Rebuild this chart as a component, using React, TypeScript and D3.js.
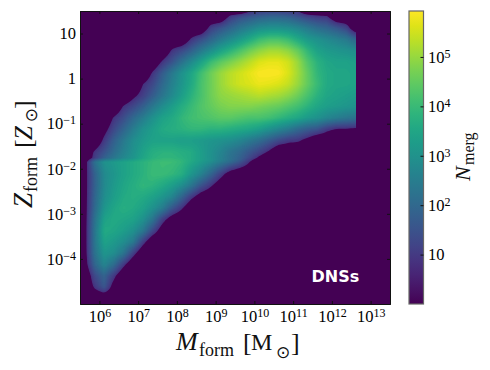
import React, { useEffect, useMemo, useRef } from 'react'
import * as d3 from 'd3'

const SERIF = '"Liberation Serif", serif'

// bin centres, log10 of mass and metallicity (two close rows keep the jump near Z = 10^-1.8)
const logMassBins = [5.625, 5.875, 6.125, 6.375, 6.625, 6.875, 7.125, 7.375, 7.625, 7.875, 8.125, 8.375, 8.625, 8.875, 9.125, 9.375, 9.625, 9.875, 10.125, 10.375, 10.625, 10.875, 11.125, 11.375, 11.625, 11.875, 12.125, 12.375, 12.625]
const logZBins = [1.5, 1.375, 1.125, 0.875, 0.625, 0.375, 0.125, -0.125, -0.375, -0.625, -0.875, -1.125, -1.375, -1.625, -1.79, -1.82, -2.125, -2.375, -2.625, -2.875, -3.125, -3.375, -3.625, -3.875, -4.125, -4.375, -4.625, -4.875]

// log10 N_merg, one row per logZBins entry
const logCounts = [
  [0, 0, 0, 0, 0, 0, 0, 0, 0, 0, 0, 0, 0, 0, 0, 0, 0, 0.7, 1.0, 1.1, 1.1, 1.0, 0.8, 0, 0, 0, 0, 0, 0],
  [0, 0, 0, 0, 0, 0, 0, 0, 0, 0, 0, 0, 0, 0, 0, 1.0, 1.4, 1.6, 1.8, 1.9, 1.9, 1.8, 1.5, 1.2, 1.0, 0.9, 0, 0, 0],
  [0, 0, 0, 0, 0, 0, 0, 0, 0, 0, 0, 0, 0, 1.1, 1.5, 1.9, 2.3, 2.6, 2.9, 3.0, 3.0, 2.9, 2.7, 2.4, 2.1, 1.9, 1.6, 1.2, 0],
  [0, 0, 0, 0, 0, 0, 0, 0, 0, 0, 0, 0.9, 1.4, 1.9, 2.4, 2.8, 3.2, 3.6, 4.0, 4.2, 4.2, 4.0, 3.6, 3.2, 3.0, 2.8, 2.6, 2.4, 1.9],
  [0, 0, 0, 0, 0, 0, 0, 0, 0, 0.9, 1.3, 1.8, 2.4, 2.9, 3.4, 3.8, 4.2, 4.6, 4.9, 5.1, 5.1, 4.9, 4.5, 3.9, 3.4, 3.2, 3.1, 3.0, 2.9],
  [0, 0, 0, 0, 0, 0, 0, 0, 0.9, 1.5, 2.2, 2.8, 3.4, 4.0, 4.4, 4.7, 5.0, 5.3, 5.6, 5.7, 5.7, 5.5, 5.0, 4.3, 3.8, 3.5, 3.4, 3.4, 3.3],
  [0, 0, 0, 0, 0, 0, 0, 0.9, 1.7, 2.4, 3.0, 3.5, 4.1, 4.6, 5.0, 5.3, 5.5, 5.7, 5.9, 5.93, 5.9, 5.6, 5.1, 4.5, 3.9, 3.6, 3.5, 3.5, 3.4],
  [0, 0, 0, 0, 0, 0, 0.8, 1.3, 2.0, 2.6, 3.1, 3.6, 4.2, 4.6, 5.0, 5.3, 5.5, 5.6, 5.75, 5.7, 5.6, 5.4, 5.0, 4.5, 4.0, 3.6, 3.5, 3.5, 3.4],
  [0, 0, 0, 0, 0, 0.6, 1.1, 1.7, 2.3, 2.8, 3.3, 3.8, 4.2, 4.6, 4.9, 5.0, 5.1, 5.2, 5.3, 5.2, 5.1, 4.9, 4.6, 4.2, 3.8, 3.5, 3.4, 3.3, 3.2],
  [0, 0, 0, 0, 0.9, 1.3, 1.8, 2.4, 2.9, 3.3, 3.7, 4.0, 4.3, 4.5, 4.7, 4.8, 4.8, 4.8, 4.7, 4.6, 4.5, 4.3, 4.1, 3.8, 3.5, 3.3, 3.2, 3.1, 3.0],
  [0, 0, 0, 0.9, 1.4, 2.0, 2.5, 3.0, 3.4, 3.6, 3.9, 4.1, 4.2, 4.3, 4.4, 4.4, 4.3, 4.2, 4.2, 4.1, 3.9, 3.7, 3.5, 3.2, 3.0, 2.7, 2.5, 2.3, 2.2],
  [0, 0, 0.5, 1.3, 1.9, 2.5, 3.0, 3.3, 3.6, 3.7, 3.8, 3.9, 3.9, 3.8, 3.8, 3.7, 3.6, 3.5, 3.3, 3.0, 2.7, 2.4, 2.0, 1.7, 1.5, 1.0, 0.7, 0.7, 0.6],
  [0, 0, 1.0, 1.8, 2.4, 2.9, 3.2, 3.4, 3.4, 3.4, 3.3, 3.3, 3.2, 3.1, 3.0, 2.9, 2.7, 2.4, 2.1, 1.7, 1.3, 1.0, 0.9, 0.5, 0, 0, 0, 0, 0],
  [0, 0.9, 1.5, 2.1, 2.6, 3.0, 3.4, 3.7, 3.8, 3.8, 3.7, 3.6, 3.3, 3.0, 2.7, 2.3, 2.0, 1.6, 1.2, 0.7, 0, 0, 0, 0, 0, 0, 0, 0, 0],
  [0, 1.1, 1.9, 2.4, 2.8, 3.1, 3.5, 3.8, 3.9, 3.9, 3.8, 3.6, 3.3, 3.0, 2.6, 2.2, 1.8, 1.2, 0.5, 0, 0, 0, 0, 0, 0, 0, 0, 0, 0],
  [0.4, 2.2, 3.0, 3.2, 3.4, 3.6, 3.8, 3.95, 4.05, 4.05, 3.9, 3.6, 3.3, 3.0, 2.6, 2.2, 1.7, 0.9, 0, 0, 0, 0, 0, 0, 0, 0, 0, 0, 0],
  [0.5, 1.8, 2.8, 3.1, 3.4, 3.6, 3.8, 4.0, 4.0, 3.9, 3.7, 3.1, 2.6, 1.9, 1.1, 0.3, 0, 0, 0, 0, 0, 0, 0, 0, 0, 0, 0, 0, 0],
  [0.5, 1.8, 2.8, 3.2, 3.5, 3.7, 3.9, 3.8, 3.6, 3.3, 2.9, 2.3, 1.5, 0.9, 0.2, 0, 0, 0, 0, 0, 0, 0, 0, 0, 0, 0, 0, 0, 0],
  [0.5, 1.9, 2.9, 3.3, 3.6, 3.7, 3.6, 3.4, 3.1, 2.7, 1.9, 1.0, 0.3, 0, 0, 0, 0, 0, 0, 0, 0, 0, 0, 0, 0, 0, 0, 0, 0],
  [0.5, 2.0, 3.1, 3.5, 3.7, 3.6, 3.4, 3.0, 2.5, 1.6, 0.9, 0, 0, 0, 0, 0, 0, 0, 0, 0, 0, 0, 0, 0, 0, 0, 0, 0, 0],
  [0.5, 2.2, 3.4, 3.6, 3.5, 3.4, 3.0, 2.3, 1.1, 0.3, 0, 0, 0, 0, 0, 0, 0, 0, 0, 0, 0, 0, 0, 0, 0, 0, 0, 0, 0],
  [0.5, 2.3, 3.6, 3.5, 3.3, 3.0, 2.4, 1.3, 0.3, 0, 0, 0, 0, 0, 0, 0, 0, 0, 0, 0, 0, 0, 0, 0, 0, 0, 0, 0, 0],
  [0.5, 2.3, 3.4, 3.2, 2.9, 2.4, 1.1, 0, 0, 0, 0, 0, 0, 0, 0, 0, 0, 0, 0, 0, 0, 0, 0, 0, 0, 0, 0, 0, 0],
  [0.5, 2.2, 3.1, 2.9, 2.3, 1.1, 0, 0, 0, 0, 0, 0, 0, 0, 0, 0, 0, 0, 0, 0, 0, 0, 0, 0, 0, 0, 0, 0, 0],
  [0.4, 1.9, 2.7, 2.1, 1.0, 0, 0, 0, 0, 0, 0, 0, 0, 0, 0, 0, 0, 0, 0, 0, 0, 0, 0, 0, 0, 0, 0, 0, 0],
  [0, 1.3, 1.9, 1.0, 0, 0, 0, 0, 0, 0, 0, 0, 0, 0, 0, 0, 0, 0, 0, 0, 0, 0, 0, 0, 0, 0, 0, 0, 0],
  [0, 0.9, 1.6, 0.4, 0, 0, 0, 0, 0, 0, 0, 0, 0, 0, 0, 0, 0, 0, 0, 0, 0, 0, 0, 0, 0, 0, 0, 0, 0],
  [0, 0, 0, 0, 0, 0, 0, 0, 0, 0, 0, 0, 0, 0, 0, 0, 0, 0, 0, 0, 0, 0, 0, 0, 0, 0, 0, 0, 0],
]

const massTicks = [6, 7, 8, 9, 10, 11, 12, 13]
const metalTicks = [1, 0, -1, -2, -3, -4]
const countTicks = [1, 2, 3, 4, 5]
const massLimits = [5.5, 13.5]
const metalLimits = [-5, 1.5]
const countMax = 5.93
const countMin = 0.8 // anything below this is painted as background
const massCut = 12.62 // the heat map stops dead here

const plot = { left: 80, right: 390, top: 11, bottom: 304 }
const bar = { left: 409, right: 423.5 }

const x = d3.scaleLinear().domain(massLimits).range([plot.left, plot.right])
const y = d3.scaleLinear().domain(metalLimits).range([plot.bottom, plot.top])
const barY = d3.scaleLinear().domain([0, countMax]).range([plot.bottom, plot.top])
const colour = d3.scaleSequential(d3.interpolateViridis).domain([0, countMax])

// 10, 1, 10^n as tspans in a tick's text
function powerLabel(text: any) {
  text.each(function (this: any, d: number) {
    const t = d3.select(this)
    t.text(d === 0 ? '1' : '10')
    if (d !== 0 && d !== 1) {
      t.append('tspan')
        .attr('dy', '-0.42em')
        .attr('font-size', 12)
        .text(String(d).replace('-', '\u2212'))
    }
  })
}

function buildBands() {
  const col = d3.scaleLinear().domain(logMassBins).range(d3.range(logMassBins.length)).clamp(true)
  const row = d3.scaleLinear().domain(logZBins).range(d3.range(logZBins.length)).clamp(true)
  const step = 2
  const pad = 4
  const w = Math.ceil((plot.right - plot.left) / step) + pad * 2
  const h = Math.ceil((plot.bottom - plot.top) / step) + pad * 2
  const values = new Float64Array(w * h)

  for (let j = 0; j < h; j++) {
    const fr = row(y.invert(plot.top + (j + 0.5 - pad) * step))
    const r0 = Math.floor(fr)
    const r1 = Math.min(r0 + 1, logZBins.length - 1)
    for (let i = 0; i < w; i++) {
      const fc = col(x.invert(plot.left + (i + 0.5 - pad) * step))
      const c0 = Math.floor(fc)
      const c1 = Math.min(c0 + 1, logMassBins.length - 1)
      const top = d3.interpolateNumber(logCounts[r0][c0], logCounts[r0][c1])(fc - c0)
      const bottom = d3.interpolateNumber(logCounts[r1][c0], logCounts[r1][c1])(fc - c0)
      values[j * w + i] = d3.interpolateNumber(top, bottom)(fr - r0)
    }
  }

  const bandStep = 0.07
  const gen = d3.contours().size([w, h])
  const path = d3.geoPath()
  const bands = d3.range(countMin, countMax, bandStep).map(t => ({
    d: path(gen.contour(values as any, t)) || '',
    fill: colour(t + bandStep / 2),
  }))
  return { bands, transform: `translate(${plot.left - pad * step},${plot.top - pad * step}) scale(${step})` }
}

export default function App() {
  const svgRef = useRef<SVGSVGElement>(null)
  const { bands, transform } = useMemo(buildBands, [])

  useEffect(() => {
    const svg = d3.select(svgRef.current)
    const style = (g: any) => {
      g.attr('font-family', SERIF).attr('font-size', 16.5)
      g.selectAll('.tick line').attr('stroke', '#111')
      g.selectAll('.domain').attr('stroke', '#111')
    }

    svg.select('.x-axis')
      .call(d3.axisBottom(x).tickValues(massTicks).tickSize(-3).tickPadding(6) as any)
      .call(style)
      .selectAll('.tick text').call(powerLabel)
    svg.select('.y-axis')
      .call(d3.axisLeft(y).tickValues(metalTicks).tickSize(-3).tickPadding(4) as any)
      .call(style)
      .selectAll('.tick text').call(powerLabel)
    svg.select('.x-top')
      .call(d3.axisTop(x).tickValues(massTicks).tickSize(-3).tickFormat(() => '') as any)
      .call(style)
    svg.select('.y-right')
      .call(d3.axisRight(y).tickValues(metalTicks).tickSize(-3).tickFormat(() => '') as any)
      .call(style)
    svg.select('.bar-axis')
      .call(d3.axisRight(barY).tickValues(countTicks).tickSize(-3).tickPadding(4.5) as any)
      .call(style)
      .selectAll('.tick text').call(powerLabel)
    svg.select('.bar-axis .domain').attr('stroke', 'none')
  }, [])

  return (
    <svg ref={svgRef} width={490} height={370} style={{ position: 'absolute', left: 0, top: 0, display: 'block' }}>
      <defs>
        <clipPath id="plot-clip">
          <rect x={plot.left} y={plot.top} width={x(massCut) - plot.left} height={plot.bottom - plot.top} />
        </clipPath>
        <linearGradient id="bar-fill" x1="0" x2="0" y1="1" y2="0">
          {d3.range(0, 1.0001, 0.05).map(t => (
            <stop key={t} offset={t} stopColor={d3.interpolateViridis(t)} />
          ))}
        </linearGradient>
      </defs>

      <rect x={plot.left} y={plot.top} width={plot.right - plot.left} height={plot.bottom - plot.top} fill={colour(0)} />
      <g clipPath="url(#plot-clip)">
        <g transform={transform}>
          {bands.map((b, i) => <path key={i} d={b.d} fill={b.fill} />)}
        </g>
      </g>

      <g className="x-axis" transform={`translate(0,${plot.bottom})`} />
      <g className="y-axis" transform={`translate(${plot.left},0)`} />
      <g className="x-top" transform={`translate(0,${plot.top})`} />
      <g className="y-right" transform={`translate(${plot.right},0)`} />

      <rect x={bar.left} y={plot.top} width={bar.right - bar.left} height={plot.bottom - plot.top} fill="url(#bar-fill)" stroke="#666" strokeWidth={1.2} />
      <g className="bar-axis" transform={`translate(${bar.right},0)`} />

      <text x={311.5} y={282} fill="#fff" fontFamily="DejaVu Sans" fontWeight={700} fontSize={16}>DNSs</text>

      <g fontFamily={SERIF} fill="#111">
        <text x={176} y={350} fontSize={26} fontStyle="italic">M</text>
        <text x={199} y={356} fontSize={18}>form</text>
        <text x={243} y={351} fontSize={26}>[</text>
        <text x={251} y={350} fontSize={24}>M</text>
        <text x={283} y={358} fontSize={17} textAnchor="middle" fontFamily="DejaVu Sans">{'\u2299'}</text>
        <text x={291} y={351} fontSize={26}>]</text>

        <g transform="translate(32,208) rotate(-90)">
          <text x={0} y={0} fontSize={27} fontStyle="italic">Z</text>
          <text x={16} y={5} fontSize={18}>form</text>
          <text x={60} y={0} fontSize={26}>[</text>
          <text x={68} y={0} fontSize={25} fontStyle="italic">Z</text>
          <text x={93} y={5} fontSize={17} textAnchor="middle" fontFamily="DejaVu Sans">{'\u2299'}</text>
          <text x={99} y={0} fontSize={26}>]</text>
        </g>

        <g transform="translate(470,181)">
          <g transform="rotate(-90)">
            <text x={0} y={0} fontSize={22} fontStyle="italic">N</text>
            <text x={16} y={4} fontSize={16}>merg</text>
          </g>
        </g>
      </g>
    </svg>
  )
}
